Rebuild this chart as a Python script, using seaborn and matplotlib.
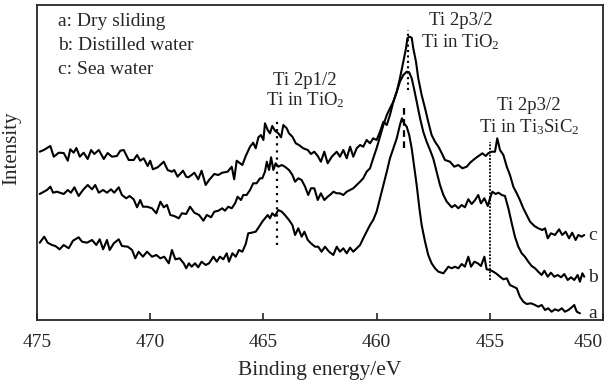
import matplotlib
matplotlib.use("Agg")
import matplotlib.pyplot as plt
import seaborn as sns
import pandas as pd

# ---- data (binding energy in eV, intensity in arbitrary units) ----
energy_c = [474.88, 474.70, 474.41, 474.26, 474.04, 473.82, 473.64, 473.53, 473.38, 473.26,
            473.11, 472.94, 472.76, 472.61, 472.47, 472.27, 472.05, 471.88, 471.69, 471.47,
            471.32, 471.17, 470.95, 470.73, 470.58, 470.44, 470.29, 470.11, 470.00, 469.88,
            469.67, 469.40, 469.23, 469.04, 468.94, 468.79, 468.55, 468.41, 468.32, 468.17,
            468.05, 467.88, 467.73, 467.55, 467.40, 467.17, 466.99, 466.82, 466.58, 466.40,
            466.29, 466.18, 466.03, 465.93, 465.78, 465.69, 465.59, 465.45, 465.34, 465.22,
            465.11, 465.00, 464.93, 464.81, 464.71, 464.61, 464.49, 464.34, 464.22, 464.12,
            463.97, 463.87, 463.72, 463.57, 463.43, 463.24, 463.04, 462.90, 462.75, 462.60,
            462.46, 462.31, 462.16, 461.98, 461.76, 461.62, 461.47, 461.32, 461.17, 461.03,
            460.88, 460.73, 460.59, 460.44, 460.29, 460.15, 460.00, 459.85, 459.70, 459.55,
            459.41, 459.26, 459.11, 458.97, 458.82, 458.70, 458.64, 458.56, 458.45, 458.38,
            458.26, 458.16, 458.01, 457.86, 457.72, 457.57, 457.42, 457.27, 457.12, 456.98,
            456.76, 456.57, 456.39, 456.21, 456.02, 455.87, 455.73, 455.58, 455.43, 455.33,
            455.18, 455.07, 454.92, 454.77, 454.67, 454.55, 454.40, 454.25, 454.11, 453.96,
            453.81, 453.67, 453.52, 453.37, 453.22, 453.03, 452.86, 452.68, 452.56, 452.44,
            452.30, 452.12, 451.94, 451.80, 451.65, 451.50, 451.36, 451.21, 451.09, 450.94,
            450.83]
intensity_c = [168.3, 170, 174, 163.3, 167.3, 167, 159.3, 170.7, 167.3, 172,
               163.3, 167.3, 161, 170, 166, 170, 161, 167, 163.3, 164,
               169.3, 170, 160, 160, 165, 159.3, 161.7, 154, 159.3, 150.7,
               152.7, 158.3, 150, 148.3, 150, 143.3, 149.3, 143.3, 142.7, 145,
               147.3, 140.7, 149.3, 135, 140, 146, 145, 147.3, 148.3, 153.3,
               140.7, 159.3, 156.7, 155, 164, 168.3, 173.3, 177.3, 171.7, 182.7,
               185, 180, 196.7, 190, 186.7, 194, 189.3, 186.7, 182.7, 195,
               191.7, 186.7, 183.3, 176.7, 175, 171.7, 170, 166, 168.3, 164,
               158.3, 168.3, 156.7, 163.3, 168.3, 163.3, 170, 161.7, 173.3, 163.3,
               171.7, 175, 173.3, 180, 176.7, 181.7, 180, 188.3, 198.3, 195,
               205, 218.3, 228.3, 241.7, 258.3, 271.7, 281.7, 283.3, 282.3, 271.7,
               258.3, 241.7, 225, 211.7, 198.3, 185, 178.3, 173.3, 166.7, 160,
               158.3, 153.3, 155, 151.7, 153.3, 157.3, 160, 162.7, 165, 166.7,
               164, 166.7, 168.3, 168.3, 181.7, 170, 165, 153.3, 145, 133.3,
               126.7, 120, 111.7, 105, 98.3, 94, 91.7, 90, 91.7, 81.7,
               86.7, 85, 90.7, 85, 88.3, 81.7, 87.3, 80, 85, 83.3,
               85]

energy_b = [474.88, 474.70, 474.56, 474.41, 474.29, 474.12, 473.82, 473.64, 473.50, 473.35,
            473.16, 472.97, 472.76, 472.57, 472.43, 472.27, 472.08, 471.91, 471.73, 471.59,
            471.39, 471.25, 471.06, 470.91, 470.73, 470.58, 470.44, 470.32, 470.14, 469.92,
            469.73, 469.55, 469.40, 469.26, 469.11, 468.94, 468.74, 468.60, 468.41, 468.24,
            468.05, 467.84, 467.65, 467.50, 467.31, 467.17, 466.99, 466.82, 466.70, 466.55,
            466.40, 466.25, 466.14, 465.99, 465.89, 465.74, 465.59, 465.45, 465.30, 465.15,
            465.05, 464.93, 464.85, 464.75, 464.66, 464.56, 464.46, 464.34, 464.19, 464.05,
            463.87, 463.72, 463.60, 463.46, 463.31, 463.16, 463.02, 462.90, 462.75, 462.60,
            462.46, 462.31, 462.16, 462.01, 461.91, 461.76, 461.62, 461.47, 461.32, 461.17,
            461.03, 460.88, 460.73, 460.59, 460.44, 460.29, 460.15, 460.00, 459.85, 459.70,
            459.55, 459.41, 459.26, 459.11, 458.97, 458.82, 458.67, 458.56, 458.45, 458.35,
            458.23, 458.08, 457.94, 457.79, 457.64, 457.50, 457.35, 457.20, 457.05, 456.90,
            456.68, 456.54, 456.39, 456.24, 456.10, 455.95, 455.80, 455.65, 455.51, 455.39,
            455.24, 455.09, 454.99, 454.89, 454.74, 454.62, 454.47, 454.33, 454.18, 454.03,
            453.89, 453.74, 453.59, 453.45, 453.30, 453.15, 453.00, 452.86, 452.71, 452.59,
            452.44, 452.30, 452.15, 452.00, 451.85, 451.71, 451.56, 451.41, 451.27, 451.12,
            451.02, 450.91, 450.83]
intensity_b = [126, 128.3, 130, 133.3, 127.3, 128.3, 126, 130, 127.3, 132.7,
               124, 130, 135, 130.7, 135, 127.3, 130, 127.3, 130.7, 127.3,
               132.7, 125, 121.7, 124, 120.7, 112.7, 120, 113.3, 113.3, 111.7,
               106.7, 118.3, 112.7, 115, 105, 104, 101.7, 106.7, 106, 113.3,
               107.3, 105, 99.3, 105, 102.7, 108.3, 109.3, 111.7, 109.3, 113.3,
               111.7, 116.7, 123.3, 120, 125, 125, 130, 136.7, 136.7, 141.7,
               141.7, 148.3, 158.3, 150, 162.7, 150, 156.7, 153.3, 155, 153.3,
               150, 145, 138.3, 141.7, 140, 133.3, 125, 131.7, 131.7, 120,
               126.7, 120, 123.3, 126, 128.3, 126.7, 126.7, 125, 128.3, 130,
               131.7, 135, 138.3, 141.7, 148.3, 151.7, 161.7, 171.7, 183.3, 195,
               205, 211.7, 218.3, 228.3, 238.3, 245, 248.3, 247.7, 241.7, 231.7,
               218.3, 201.7, 188.3, 178.3, 170, 161.7, 148.3, 135, 125, 118.3,
               112.7, 115, 111.7, 115, 112.7, 120.7, 116, 120, 125, 116.7,
               121.7, 114, 121.7, 128.3, 126, 127.3, 125, 124, 111.7, 96.7,
               83.3, 73.3, 66.7, 63.3, 58.3, 54, 51.7, 48.3, 45, 49.3,
               43.3, 47.3, 43.3, 45, 42.7, 46, 40, 42.7, 40, 45,
               38.3, 46.7, 43.3]

energy_a = [474.88, 474.68, 474.53, 474.34, 474.19, 474.00, 473.82, 473.60, 473.41, 473.16,
            473.01, 472.79, 472.57, 472.38, 472.23, 472.08, 471.91, 471.79, 471.61, 471.39,
            471.25, 470.99, 470.80, 470.66, 470.51, 470.32, 470.14, 469.92, 469.73, 469.55,
            469.38, 469.18, 469.04, 468.89, 468.70, 468.52, 468.41, 468.29, 468.17, 468.02,
            467.88, 467.73, 467.55, 467.40, 467.21, 467.06, 466.92, 466.77, 466.62, 466.52,
            466.37, 466.22, 466.08, 465.93, 465.78, 465.67, 465.52, 465.34, 465.19, 465.05,
            464.93, 464.81, 464.71, 464.61, 464.49, 464.34, 464.19, 464.05, 463.87, 463.72,
            463.60, 463.46, 463.31, 463.19, 463.04, 462.90, 462.72, 462.58, 462.43, 462.28,
            462.10, 461.91, 461.76, 461.62, 461.47, 461.32, 461.17, 461.03, 460.88, 460.73,
            460.59, 460.44, 460.29, 460.15, 460.00, 459.85, 459.70, 459.55, 459.41, 459.26,
            459.11, 458.97, 458.88, 458.79, 458.67, 458.56, 458.45, 458.35, 458.23, 458.11,
            458.01, 457.86, 457.72, 457.57, 457.42, 457.27, 457.05, 456.83, 456.68, 456.54,
            456.39, 456.24, 456.10, 455.95, 455.83, 455.68, 455.53, 455.39, 455.24, 455.14,
            454.99, 454.84, 454.69, 454.55, 454.40, 454.25, 454.11, 453.96, 453.81, 453.67,
            453.52, 453.37, 453.18, 453.00, 452.86, 452.71, 452.56, 452.42, 452.27, 452.12,
            451.97, 451.82, 451.68, 451.53, 451.38, 451.27, 451.16, 451.02]
intensity_a = [77.3, 83.3, 77.3, 75, 74, 70.7, 75, 71.7, 79.3, 82.7,
               78.3, 77.3, 80, 75, 80.7, 70.7, 80, 70, 76.7, 80.7,
               74, 73.3, 70, 61.7, 68.3, 63.3, 68.3, 63.3, 65, 61.7,
               63.3, 56.7, 70, 60.7, 61.7, 56.7, 51.7, 56.7, 53.3, 56.7,
               52.7, 58.3, 55, 56.7, 63.3, 58.3, 63.3, 60.7, 66.7, 58.3,
               66.7, 63.3, 70, 68.3, 76, 86.7, 87.3, 88.3, 93.3, 98.3,
               101.7, 105, 101.7, 106.7, 104, 110, 108.3, 105, 100, 95,
               85, 91.7, 83.3, 88.3, 80, 76.7, 73.3, 73.3, 68.3, 73.3,
               68.3, 65, 73.3, 68.3, 71.7, 66.7, 72.3, 68.3, 71.7, 75,
               81.7, 88.3, 95, 100, 108.3, 121.7, 135, 148.3, 161.7, 171.7,
               181.7, 195, 201.7, 196.7, 193.3, 185, 171.7, 155, 135, 111.7,
               95, 78.3, 65, 56.7, 51.7, 48.3, 46.7, 53.3, 51.7, 53.3,
               51.7, 56, 53.3, 63.3, 53.3, 58.3, 56.7, 54, 63.3, 50.7,
               50, 48.3, 46, 43.3, 40.7, 41.7, 35, 33.3, 31.7, 23.3,
               18.3, 16, 16.7, 15, 13.3, 15, 10, 11.7, 8.3, 10.7,
               9.3, 11.7, 8.3, 10, 12.7, 15, 8.3, 6.7]

# reference lines (peak positions): energy, lower and upper intensity
vline_energy = [464.39, 458.63, 458.78, 455.00]
vline_low = [75, 230, 172, 40]
vline_high = [202, 290, 213, 178]

annot_text = ["Ti 2p1/2", "Ti in TiO$_2$", "Ti 2p3/2", "Ti in TiO$_2$", "Ti 2p3/2", "Ti in Ti$_3$SiC$_2$"]
annot_x = [463.16, 463.16, 456.3, 456.3, 453.27, 453.27]
annot_y = [235, 215, 295, 273, 210, 188]

legend_lines = ["a: Dry sliding", "b: Distilled water", "c: Sea water"]
curve_labels = ["c", "b", "a"]
curve_label_y = [85, 43, 7]

xticks = [475, 470, 465, 460, 455, 450]

# ---- styling ----
sns.set_style("ticks")
plt.rcParams["font.family"] = ["Liberation Serif", "DejaVu Serif"]
plt.rcParams["mathtext.fontset"] = "custom"
plt.rcParams["mathtext.rm"] = "Liberation Serif"
plt.rcParams["mathtext.it"] = "Liberation Serif:italic"
plt.rcParams["mathtext.bf"] = "Liberation Serif:bold"

fig = plt.figure(figsize=(6.09, 3.86), dpi=100)
ax = fig.add_axes([37 / 609, 1 - 320 / 386, 566 / 609, 315 / 386])

for e, i in [(energy_a, intensity_a), (energy_b, intensity_b), (energy_c, intensity_c)]:
    df = pd.DataFrame({"energy": e, "intensity": i})
    sns.lineplot(data=df, x="energy", y="intensity", ax=ax, color="black",
                 lw=1.5, sort=False, estimator=None)

styles = [(0, (1, 2.2)), (0, (1, 1.6)), (0, (3, 2)), (0, (1, 0.9))]
widths = [1.6, 1.5, 1.6, 1.3]
for xv, y0, y1, ls, w in zip(vline_energy, vline_low, vline_high, styles, widths):
    ax.plot([xv, xv], [y0, y1], color="black", lw=w, linestyle=ls)

for t, xx, yy in zip(annot_text, annot_x, annot_y):
    ax.text(xx, yy, t, ha="center", va="baseline", fontsize=13.5)

for k, t in enumerate(legend_lines):
    ax.text(474.07, 298 - 23.5 * k, t, ha="left", va="center", fontsize=14)

for t, yy in zip(curve_labels, curve_label_y):
    ax.text(450.44, yy, t, ha="center", va="center", fontsize=14)

ax.set_xlim(475, 450)
ax.set_ylim(0, 315)
ax.set_xticks(xticks)
ax.set_xticklabels([str(v) for v in xticks])
ax.get_xticklabels()[-1].set_horizontalalignment("right")
ax.set_yticks([])
ax.tick_params(axis="x", direction="in", length=5, width=1.2, labelsize=14, pad=10)
for s in ax.spines.values():
    s.set_visible(True)
    s.set_linewidth(1.3)
ax.set_xlabel("Binding energy/eV", fontsize=15.5)
ax.xaxis.set_label_coords(0.5, -0.130)
ax.set_ylabel("Intensity", fontsize=15)
ax.yaxis.set_label_coords(-0.027, 0.544)

fig.savefig("out.png", dpi=100)
